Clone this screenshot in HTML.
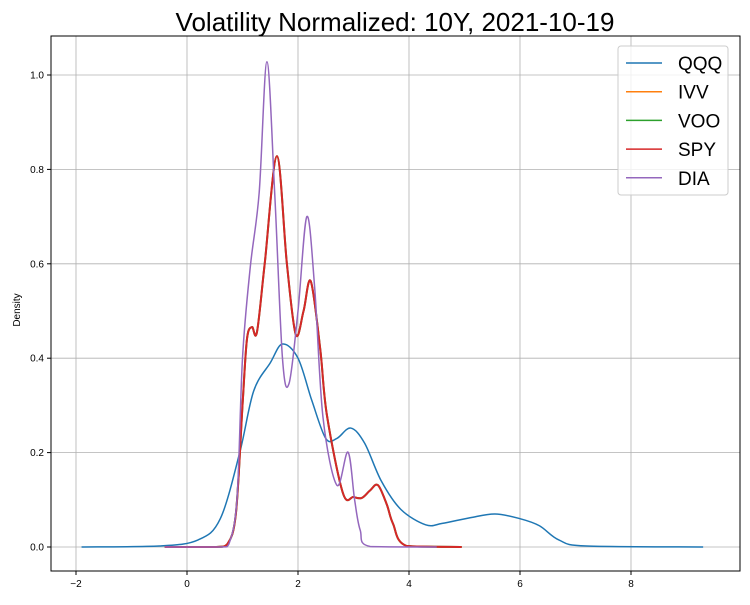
<!DOCTYPE html>
<html><head><meta charset="utf-8"><style>
body{margin:0;background:#fff;font-family:"Liberation Sans",sans-serif;}
svg text{font-family:"Liberation Sans",sans-serif;}
</style></head><body>
<svg id="c" width="750" height="600" xmlns="http://www.w3.org/2000/svg">
<rect width="750" height="600" fill="#fff"/>
<text x="395" y="31" font-size="26" text-anchor="middle">Volatility Normalized: 10Y, 2021-10-19</text>
<text transform="translate(20,310) rotate(-90)" font-size="10" text-anchor="middle">Density</text>
<g id="grid"></g><g id="series"></g>
<rect x="51" y="36" width="689" height="535" fill="none" stroke="#000" stroke-width="1"/>
<g id="legend"></g>
</svg>
<script>
const xTicks=[-2,0,2,4,6,8];
const yTicks=[0,0.2,0.4,0.6,0.8,1.0];
const yTickLabels=["0.0","0.2","0.4","0.6","0.8","1.0"];
const seriesNames=["QQQ","IVV","VOO","SPY","DIA"];
const qqqX=[-1.9,-0.5,0.2,0.6,0.95,1.2,1.5,1.72,2.0,2.25,2.5,2.7,2.95,3.2,3.5,3.85,4.3,4.6,5.1,5.55,6.0,6.35,6.7,7.2,9.3];
const qqqY=[0,0.002,0.015,0.06,0.2,0.33,0.39,0.43,0.40,0.31,0.23,0.23,0.252,0.22,0.14,0.08,0.047,0.05,0.062,0.07,0.06,0.045,0.015,0.002,0];
const spyX=[-0.4,0.5,0.72,0.88,1.0,1.08,1.17,1.26,1.4,1.62,1.8,1.96,2.1,2.23,2.4,2.52,2.81,3.0,3.15,3.3,3.44,3.6,3.71,3.96,4.95];
const spyY=[0,0,0.005,0.07,0.3,0.44,0.466,0.455,0.6,0.828,0.6,0.45,0.5,0.563,0.42,0.28,0.114,0.106,0.104,0.12,0.131,0.09,0.05,0.002,0];
const ivvY=spyY.slice(), vooY=spyY.slice();
const diaX=[-0.4,0.6,0.75,0.9,1.0,1.14,1.3,1.44,1.58,1.72,1.84,2.0,2.16,2.3,2.45,2.7,2.9,3.02,3.12,3.3,4.5];
const diaY=[0,0,0.005,0.1,0.4,0.593,0.75,1.028,0.75,0.4,0.347,0.5,0.70,0.55,0.275,0.131,0.201,0.1,0.036,0.001,0];
const colors=["#1f77b4","#ff7f0e","#2ca02c","#d62728","#9467bd"];
const widths=[1.5,1.5,2,2,1.5];
const X=v=>187+(v)*55.5, Y=v=>547-v*472;
const NS="http://www.w3.org/2000/svg";
const grid=document.getElementById('grid');
function mk(t,a,p){const e=document.createElementNS(NS,t);for(const k in a)e.setAttribute(k,a[k]);p.appendChild(e);return e;}
xTicks.forEach(t=>{
 const l=mk('line',{x1:X(t),x2:X(t),y1:36,y2:571,stroke:'#b0b0b0','stroke-width':0.8},grid);
 
 
 mk('line',{x1:X(t),x2:X(t),y1:571,y2:575,stroke:'#000'},grid);
 const tx=mk('text',{x:X(t),y:587,'font-size':10,'text-anchor':'middle'},grid);tx.textContent=t<0?'\u2212'+(-t):t;
 
 
});
yTicks.forEach((t,i)=>{
 const l=mk('line',{x1:51,x2:740,y1:Y(t),y2:Y(t),stroke:'#b0b0b0','stroke-width':0.8},grid);
 
 
 mk('line',{x1:47,x2:51,y1:Y(t),y2:Y(t),stroke:'#000'},grid);
 const tx=mk('text',{x:44,y:Y(t)+3.5,'font-size':10,'text-anchor':'end'},grid);tx.textContent=yTickLabels[i];
 
 
});
function path(xs,ys){
 const p=xs.map((x,i)=>[X(x),Y(ys[i])]);let d='M'+p[0][0]+','+p[0][1];
 for(let i=0;i<p.length-1;i++){const p0=p[i-1]||p[i],p1=p[i],p2=p[i+1],p3=p[i+2]||p2;
  const c1=[p1[0]+(p2[0]-p0[0])/6,Math.min(547,p1[1]+(p2[1]-p0[1])/6)],c2=[p2[0]-(p3[0]-p1[0])/6,Math.min(547,p2[1]-(p3[1]-p1[1])/6)];
  d+=`C${c1[0]},${c1[1]} ${c2[0]},${c2[1]} ${p2[0]},${p2[1]}`;}
 return d;}
const sg=document.getElementById('series');
const data=[[qqqX,qqqY],[spyX,ivvY],[spyX,vooY],[spyX,spyY],[diaX,diaY]];
data.forEach((s,i)=>{const e=mk('path',{d:path(s[0],s[1]),fill:'none',stroke:colors[i],'stroke-width':widths[i],'stroke-linejoin':'round'},sg);
 
 });
const lg=document.getElementById('legend');
const box=mk('rect',{x:618,y:46,width:110,height:149,rx:3,fill:'#fff','fill-opacity':0.8,stroke:'#ccc'},lg);


seriesNames.forEach((n,i)=>{const y=63+i*28.7;
 const g=mk('g',{},lg);
 
 
 mk('line',{x1:626,x2:662,y1:y,y2:y,stroke:colors[i],'stroke-width':1.5},g);
 const t=mk('text',{x:678,y:y+7,'font-size':19},g);t.textContent=n;});
</script>
</body></html>
